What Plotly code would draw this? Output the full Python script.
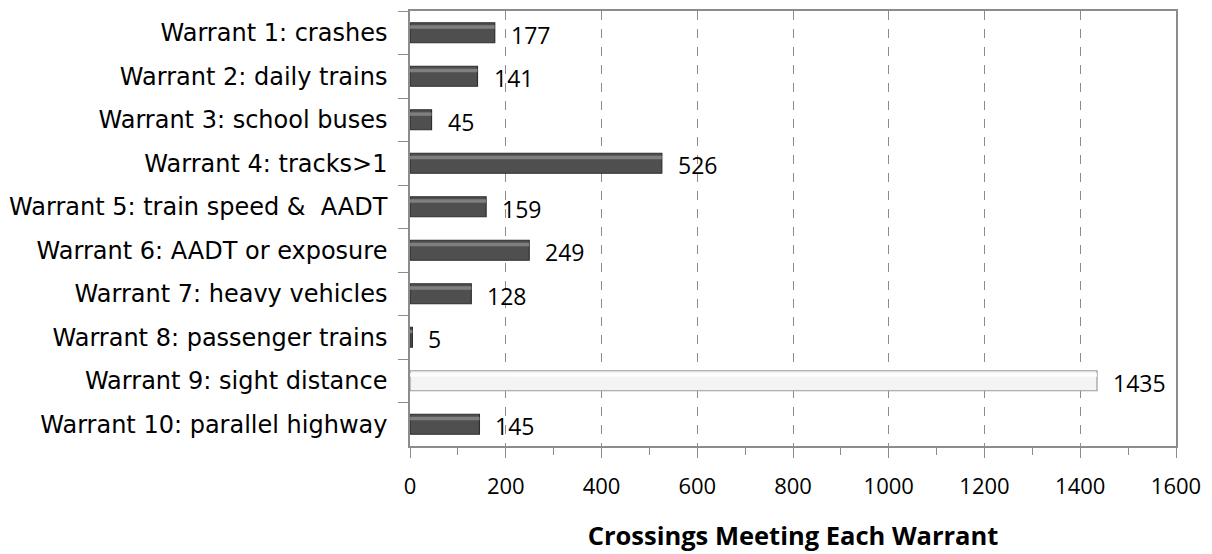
import plotly.graph_objects as go

# warrants and the number of crossings meeting each one
warrants = ['Warrant 1: crashes', 'Warrant 2: daily trains', 'Warrant 3: school buses',
            'Warrant 4: tracks>1', 'Warrant 5: train speed &  AADT', 'Warrant 6: AADT or exposure',
            'Warrant 7: heavy vehicles', 'Warrant 8: passenger trains', 'Warrant 9: sight distance',
            'Warrant 10: parallel highway']
crossings = [177, 141, 45, 526, 159, 249, 128, 5, 1435, 145]

lab_font = 'DejaVu Sans, Calibri, sans-serif'
num_font = 'Open Sans, Calibri, sans-serif'

fill = ['#f4f4f4' if w.startswith('Warrant 9') else '#4f4f4f' for w in warrants]
edge = ['#9a9a9a' if w.startswith('Warrant 9') else '#2e2e2e' for w in warrants]
shine = ['#ffffff' if w.startswith('Warrant 9') else '#8c8c8c' for w in warrants]

fig = go.Figure()
fig.add_trace(go.Bar(y=warrants, x=crossings, orientation='h', width=0.46,
                     marker=dict(color=fill, line=dict(color=edge, width=1.2)),
                     hoverinfo='x+y'))
# lighter band near the top of each bar, fakes the bevel of the original
fig.add_trace(go.Bar(y=warrants, x=crossings, orientation='h', width=0.08, offset=-0.17,
                     marker=dict(color=shine, line=dict(width=0)), opacity=0.8,
                     hoverinfo='skip'))

for w, v in zip(warrants, crossings):
    fig.add_annotation(x=v, y=w, text=str(v), showarrow=False, xanchor='left',
                       xshift=14, yshift=-2, font=dict(size=23, color='#000', family=num_font))

# the page body adds an 8px offset, margins below account for it
fig.update_layout(
    width=1212, height=554, barmode='overlay', showlegend=False,
    plot_bgcolor='white', paper_bgcolor='white',
    margin=dict(l=398, r=44, t=1, b=116),
    font=dict(family=num_font, size=22, color='#000'),
    xaxis=dict(range=[0, 1600], tickvals=list(range(0, 1601, 200)),
               showgrid=True, gridcolor='#8c8c8c', griddash='dash', gridwidth=1,
               showline=True, linecolor='#8c8c8c', linewidth=1.5, mirror=True,
               ticks='outside', ticklen=10, tickcolor='#8c8c8c',
               minor=dict(tickvals=list(range(100, 1600, 200)), ticks='outside',
                          ticklen=7, tickcolor='#8c8c8c', showgrid=False),
               zeroline=False, tickfont=dict(size=22), ticklabelstandoff=10,
               title=dict(text='<b>Crossings Meeting Each Warrant</b>',
                          font=dict(size=25.5), standoff=28)),
    yaxis=dict(autorange='reversed', showline=True, linecolor='#8c8c8c', linewidth=1.5,
               mirror=True, ticks='outside', ticklen=10, tickcolor='#8c8c8c',
               tickson='boundaries', showgrid=False,
               tickfont=dict(size=24, family=lab_font), ticklabelstandoff=16),
)

fig.write_html('out.html')
